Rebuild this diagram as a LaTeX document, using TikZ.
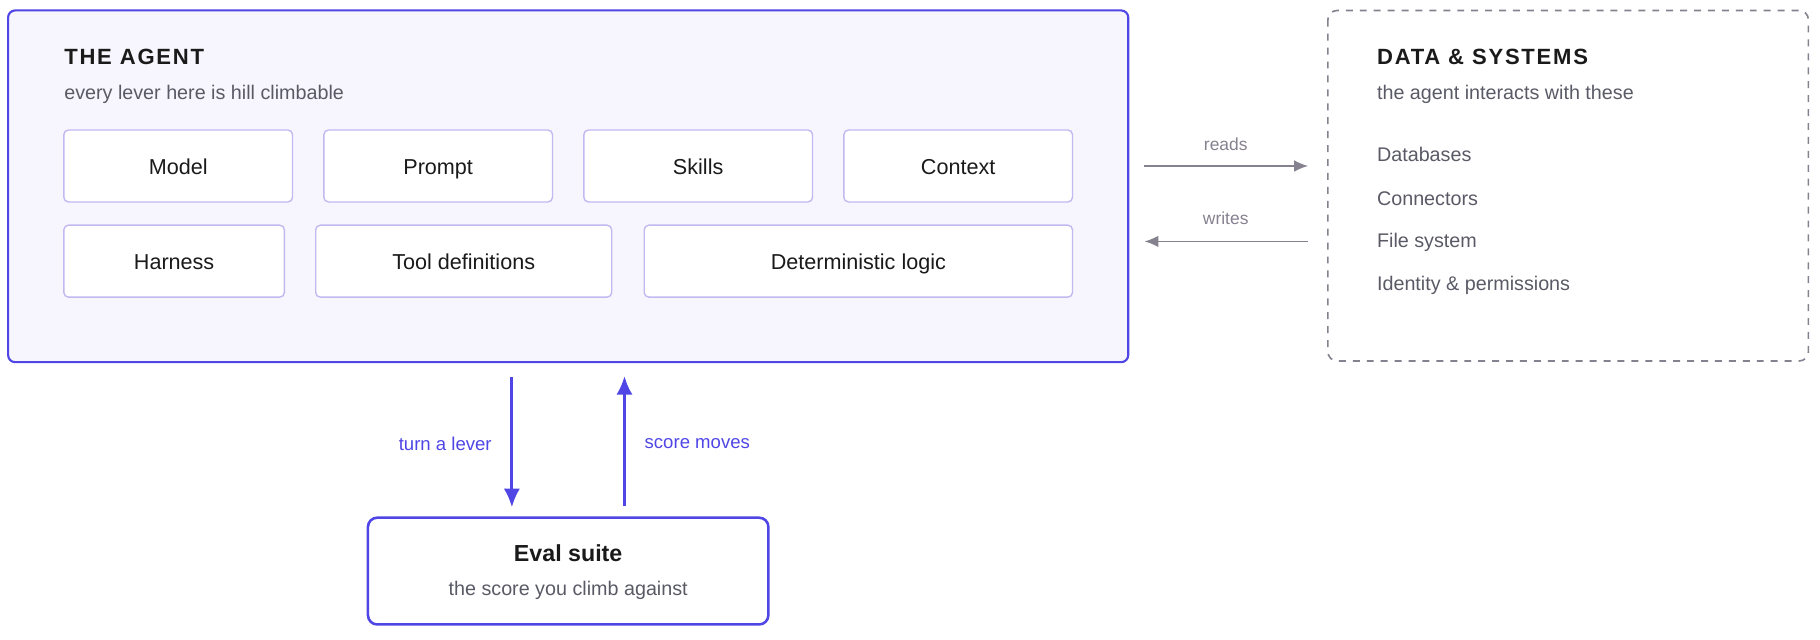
\documentclass[tikz,border=0pt]{standalone}
\usepackage{fontspec}
\setmainfont{Liberation Sans}
\usetikzlibrary{arrows.meta}
\definecolor{ind}{HTML}{4F46E5}
\definecolor{lav}{HTML}{F7F5FD}
\definecolor{lbord}{HTML}{C4B8F0}
\definecolor{txt}{HTML}{1A1A1A}
\definecolor{sub}{HTML}{5A5A66}
\definecolor{gline}{HTML}{85818F}
\tikzset{
  x=0.5pt,y=-0.5pt,
  lever/.style={draw=lbord,fill=white,rounded corners=2pt,line width=0.6pt,font=\fontsize{9.3}{11}\selectfont,text=txt,text height=9pt,text depth=2pt},
  ttl/.style={anchor=west,inner sep=0pt,font=\fontsize{9.5}{11}\selectfont\bfseries,text=txt},
  subt/.style={anchor=west,inner sep=0pt,font=\fontsize{8.5}{10}\selectfont,text=sub},
  item/.style={anchor=west,inner sep=0pt,font=\fontsize{8.5}{10}\selectfont,text=sub},
  garr/.style={draw=gline,line width=0.7pt,-{Latex[length=6pt,width=5pt]}},
  barr/.style={draw=ind,line width=1.2pt,-{Latex[length=8pt,width=7pt]}},
  glab/.style={font=\fontsize{7.5}{9}\selectfont,text=gline},
  blab/.style={inner sep=0pt,font=\fontsize{8}{10}\selectfont,text=ind}
}
\begin{document}
\begin{tikzpicture}
\useasboundingbox (0,0) rectangle (1568,551);
% agent
\draw[ind,fill=lav,line width=0.9pt,rounded corners=3pt] (7,9) rectangle (972,312);
\node (agent) at (489.5,160.5) {};
\node[ttl] (at) at (55,49) {\addfontfeature{LetterSpace=8}THE AGENT};
\node[subt] (as) at (55,81) {every lever here is hill climbable};
\node[lever,minimum width=98.5pt,minimum height=31pt] (model) at (153.5,143) {Model};
\node[lever,minimum width=98.5pt,minimum height=31pt] (prompt) at (377.5,143) {Prompt};
\node[lever,minimum width=98.5pt,minimum height=31pt] (skills) at (601.5,143) {Skills};
\node[lever,minimum width=98.5pt,minimum height=31pt] (context) at (825.5,143) {Context};
\node[lever,minimum width=95pt,minimum height=31pt] (harness) at (150,225) {Harness};
\node[lever,minimum width=127.5pt,minimum height=31pt] (tools) at (399.5,225) {Tool definitions};
\node[lever,minimum width=184.5pt,minimum height=31pt] (det) at (739.5,225) {Deterministic logic};
% data
\draw[gline,dashed,line width=0.7pt,rounded corners=4pt] (1144,9) rectangle (1558,311);
\node[ttl] (dt) at (1186,49) {\addfontfeature{LetterSpace=8}DATA \& SYSTEMS};
\node[subt] (ds) at (1186,81) {the agent interacts with these};
\node[item] (i1) at (1186,133) {Databases};
\node[item] (i2) at (1186,171) {Connectors};
\node[item] (i3) at (1186,209) {File system};
\node[item] (i4) at (1186,246) {Identity \& permissions};
% reads/writes
\coordinate (r1) at (986,143); \coordinate (r2) at (1127,143);
\coordinate (w1) at (1127,208); \coordinate (w2) at (986,208);
\draw[garr] (r1) -- (r2);
\draw[garr] (w1) -- (w2);
\node[glab] (rl) at (1056,124) {reads};
\node[glab] (wl) at (1056,188) {writes};
% eval
\draw[ind,fill=white,line width=1.1pt,rounded corners=4pt] (317,446) rectangle (662,538);
\node[font=\fontsize{10}{12}\selectfont\bfseries,text=txt] (ev) at (489.5,477) {Eval suite};
\node[font=\fontsize{8.5}{10}\selectfont,text=sub] (evs) at (489.5,509) {the score you climb against};
\coordinate (d1) at (441,325); \coordinate (d2) at (441,437);
\coordinate (u1) at (538,436); \coordinate (u2) at (538,324);
\draw[barr] (d1) -- (d2);
\draw[barr] (u1) -- (u2);
\node[blab,anchor=east] (tl) at (424,382) {turn a lever};
\node[blab,anchor=west] (sm) at (555,382) {score moves};
\end{tikzpicture}
\end{document}
